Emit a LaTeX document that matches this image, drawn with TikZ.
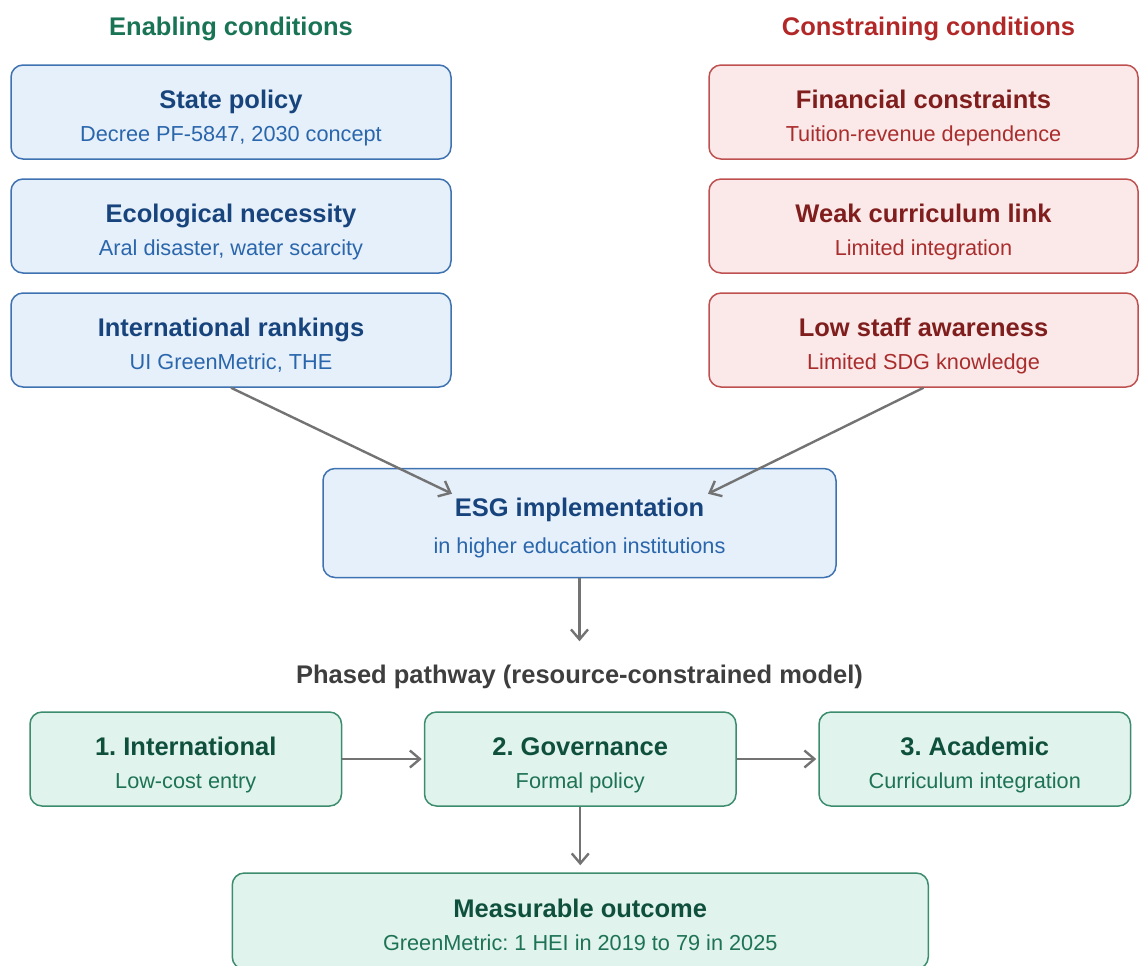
\documentclass[tikz,border=0pt]{standalone}
\usepackage{fontspec}
\setmainfont{Liberation Sans}
\usepackage{xcolor}
\usetikzlibrary{arrows.meta, positioning, calc}

\definecolor{bluefill}{RGB}{230,240,250}
\definecolor{blueline}{RGB}{62,114,176}
\definecolor{bluetitle}{RGB}{24,68,125}
\definecolor{bluesub}{RGB}{42,102,172}
\definecolor{redfill}{RGB}{251,233,233}
\definecolor{redline}{RGB}{190,80,80}
\definecolor{redtitle}{RGB}{128,30,30}
\definecolor{redsub}{RGB}{170,45,45}
\definecolor{greenfill}{RGB}{224,243,236}
\definecolor{greenline}{RGB}{60,140,110}
\definecolor{greentitle}{RGB}{15,80,60}
\definecolor{greensub}{RGB}{30,115,85}
\definecolor{enabcol}{RGB}{25,115,85}
\definecolor{conscol}{RGB}{178,40,40}
\definecolor{pathgray}{RGB}{62,62,62}
\definecolor{arrowgray}{RGB}{115,115,115}

\newcommand{\titlefont}{\fontsize{12.75pt}{15pt}\selectfont\bfseries}
\newcommand{\boxtitle}[2]{\rule{0pt}{16.5pt}{\titlefont\color{#1}#2}}

\begin{document}
\frenchspacing
\begin{tikzpicture}[
        x=0.5pt, y=-0.5pt,
        node distance=9.25pt and 40.75pt,
        box/.style={rectangle, rounded corners=6pt, line width=0.75pt, align=center, inner sep=0pt, font=\fontsize{10.85pt}{16.5pt}\selectfont, execute at end node={\rule[-3.5pt]{0pt}{3.5pt}}},
        enabler/.style={box, draw=blueline, fill=bluefill, text=bluesub, minimum width=220pt, minimum height=47pt},
        constraint/.style={box, draw=redline, fill=redfill, text=redsub, minimum width=214.5pt, minimum height=47pt},
        core/.style={box, draw=blueline, fill=bluefill, text=bluesub, minimum width=256.5pt, minimum height=54.5pt, execute at end node={\rule[-5pt]{0pt}{5pt}}},
        phase/.style={box, draw=greenline, fill=greenfill, text=greensub, minimum width=155.75pt, minimum height=47pt},
        outcome/.style={box, draw=greenline, fill=greenfill, text=greensub, minimum width=348pt, minimum height=48pt},
        header/.style={font=\titlefont, inner sep=0pt, anchor=base},
        arrow/.style={-{Straight Barb[length=5pt, width=8.5pt]}, line width=1.2pt, draw=arrowgray},
    ]
        \useasboundingbox (0,0) rectangle (1139,965);

        % Column headers
        \node[header, text=enabcol] (enabhd) at (231,35) {Enabling conditions};
        \node[header, text=conscol] (conshd) at (928.5,35) {Constraining conditions};

        % Enabling conditions
        \node[enabler] (policy) at (231,112) {\boxtitle{bluetitle}{State policy}\\Decree PF-5847, 2030 concept};
        \node[enabler, below=of policy] (ecology) {\boxtitle{bluetitle}{Ecological necessity}\\Aral disaster, water scarcity};
        \node[enabler, below=of ecology] (rankings) {\boxtitle{bluetitle}{International rankings}\\UI GreenMetric, THE};

        % Constraining conditions
        \node[constraint] (finance) at (923.5,112) {\boxtitle{redtitle}{Financial constraints}\\Tuition-revenue dependence};
        \node[constraint, below=of finance] (curric) {\boxtitle{redtitle}{Weak curriculum link}\\Limited integration};
        \node[constraint, below=of curric] (staff) {\boxtitle{redtitle}{Low staff awareness}\\Limited SDG knowledge};

        % ESG implementation
        \node[core] (esg) at (579.5,523) {\boxtitle{bluetitle}{ESG implementation}\\[2pt]in higher education institutions};
        \coordinate (esgin1) at ($(esg.north)+(-127.5,26)$);
        \coordinate (esgin2) at ($(esg.north)+(128.5,26)$);
        \coordinate (pathend) at ($(esg.south)+(0,63)$);

        % Phased pathway
        \node[header, text=pathgray] (phasedhd) at (579.5,683) {Phased pathway (resource-constrained model)};
        \node[phase] (intl) at (185.75,759) {\boxtitle{greentitle}{1. International}\\Low-cost entry};
        \node[phase, right=of intl] (gov) {\boxtitle{greentitle}{2. Governance}\\Formal policy};
        \node[phase, right=of gov] (acad) {\boxtitle{greentitle}{3. Academic}\\Curriculum integration};
        \node[outcome, below=32.75pt of gov] (result) {\boxtitle{greentitle}{Measurable outcome}\\GreenMetric: 1 HEI in 2019 to 79 in 2025};

        % Arrows
        \draw[arrow] (rankings.south) -- (esgin1);
        \draw[arrow] (staff.south) -- (esgin2);
        \draw[arrow] (esg.south) -- (pathend);
        \draw[arrow, shorten >=1pt] (intl) -- (gov);
        \draw[arrow, shorten >=1pt] (gov) -- (acad);
        \draw[arrow, shorten >=3.5pt] (gov) -- (result);
    \end{tikzpicture}
\end{document}
